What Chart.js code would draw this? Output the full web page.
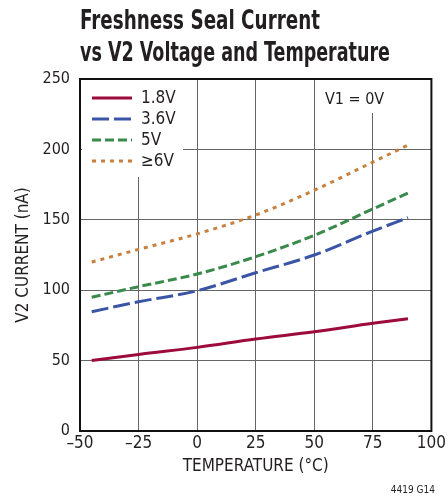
<!DOCTYPE html>
<html>
<head>
<meta charset="utf-8">
<script src="https://cdn.jsdelivr.net/npm/chart.js@4"></script>
<style>
  html, body { margin: 0; padding: 0; background: #fff; }
  #wrap { width: 448px; height: 500px; }
</style>
</head>
<body>
<div id="wrap"><canvas id="chart" width="448" height="500"></canvas></div>
<script>
// data
const temps = [-45, -25, 0, 25, 50, 75, 90];
const current18 = [50, 54.4, 59.4, 65.3, 70.5, 76.5, 79.8];
const current36 = [84.7, 91.8, 99.6, 112.4, 125, 142, 151.5];
const current5 = [95, 102.5, 111.5, 123.8, 139, 157.7, 169];
const current6 = [120, 129, 140, 153.4, 171, 191, 203];
const seriesLabels = ["1.8V", "3.6V", "5V", "≥6V"];
const xTicks = [-50, -25, 0, 25, 50, 75, 100];
const yTicks = [0, 50, 100, 150, 200, 250];

const FONT = "'Liberation Sans Narrow', 'DejaVu Sans Condensed', 'Liberation Sans', sans-serif";
const colors = ["#9c0b3b", "#3a55a6", "#398a4b", "#c7803d"];
const dashes = [[], [17, 5], [9, 4], [4, 5]];

const toPoints = vals => temps.map((t, i) => ({ x: t, y: vals[i] }));
const allSeries = [current18, current36, current5, current6];

// draws a line of text squeezed to a given width (condensed look)
function squeezedText(ctx, text, x, y, width) {
    const w = ctx.measureText(text).width;
    const k = Math.min(1, width / w);
    ctx.save();
    ctx.translate(x, y);
    ctx.scale(k, 1);
    ctx.fillText(text, 0, 0);
    ctx.restore();
}

// title, legend, box and label
const decorations = {
    id: "decorations",
    beforeDatasetsDraw(chart) {
        const ctx = chart.ctx;
        ctx.save();
        ctx.fillStyle = "#fff";
        ctx.fillRect(82, 80, 101, 97);     // legend background
        ctx.fillRect(318, 80, 70, 33);     // V1 label background
        ctx.restore();
    },
    afterDraw(chart) {
        const ctx = chart.ctx;
        const a = chart.chartArea;
        ctx.save();
        // title
        ctx.fillStyle = "#231f20";
        ctx.font = "bold 26px " + FONT;
        ctx.textBaseline = "alphabetic";
        ctx.textAlign = "left";
        squeezedText(ctx, "Freshness Seal Current", a.left, 29, 240);
        squeezedText(ctx, "vs V2 Voltage and Temperature", a.left, 61, 310);

        // frame
        ctx.strokeStyle = "#111";
        ctx.lineWidth = 2;
        ctx.strokeRect(a.left, a.top, a.right - a.left, a.bottom - a.top);

        // legend
        ctx.font = "17px " + FONT;
        ctx.textBaseline = "middle";
        seriesLabels.forEach((lab, i) => {
            const y = 98 + i * 21;
            ctx.strokeStyle = colors[i];
            ctx.lineWidth = 3;
            ctx.setLineDash(dashes[i]);
            ctx.beginPath();
            ctx.moveTo(92, y);
            ctx.lineTo(132, y);
            ctx.stroke();
            ctx.setLineDash([]);
            ctx.fillStyle = "#231f20";
            ctx.fillText(lab, 141, y + 1);
        });
        ctx.font = "16px " + FONT;
        ctx.fillText("V1 = 0V", 325, 100);

        // figure code
        ctx.font = "10px " + FONT;
        ctx.textAlign = "right";
        ctx.fillText("4419 G14", 435, 490);
        ctx.restore();
    }
};

new Chart(document.getElementById("chart"), {
    type: "line",
    data: {
        datasets: allSeries.map((vals, i) => ({
            label: seriesLabels[i],
            data: toPoints(vals),
            borderColor: colors[i],
            borderDash: dashes[i],
            borderWidth: 3,
            pointRadius: 0,
            fill: false,
            cubicInterpolationMode: "monotone"
        }))
    },
    options: {
        responsive: false,
        animation: false,
        layout: { padding: { left: 0, right: 16, top: 79, bottom: 0 } },
        plugins: {
            legend: { display: false },
            tooltip: { enabled: false }
        },
        scales: {
            x: {
                type: "linear",
                min: -50,
                max: 100,
                afterBuildTicks: axis => { axis.ticks = xTicks.map(v => ({ value: v })); },
                afterFit: axis => { axis.height = 69; },
                ticks: {
                    color: "#231f20",
                    font: { family: FONT, size: 17 },
                    padding: 2,
                    maxRotation: 0,
                    callback: v => String(v).replace("-", "–")
                },
                grid: { color: "#666", lineWidth: 1, drawTicks: false },
                border: { display: false },
                title: {
                    display: true,
                    text: "TEMPERATURE (°C)",
                    color: "#231f20",
                    font: { family: FONT, size: 17 },
                    padding: { top: 2, bottom: 23 }
                }
            },
            y: {
                min: 0,
                max: 250,
                afterBuildTicks: axis => { axis.ticks = yTicks.map(v => ({ value: v })); },
                afterFit: axis => { axis.width = 80; },
                ticks: {
                    color: "#231f20",
                    font: { family: FONT, size: 16 },
                    padding: 10
                },
                grid: { color: "#666", lineWidth: 1, drawTicks: false },
                border: { display: false },
                title: {
                    display: true,
                    text: "V2 CURRENT (nA)",
                    color: "#231f20",
                    font: { family: FONT, size: 17 },
                    padding: { top: 13, bottom: 0 }
                }
            }
        }
    },
    plugins: [decorations]
});
</script>
</body>
</html>
